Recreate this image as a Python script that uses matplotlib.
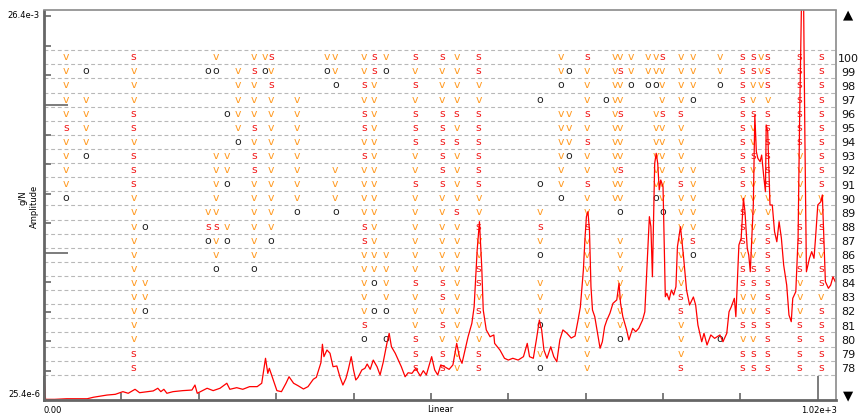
import numpy as np
import matplotlib
matplotlib.use('Agg')
import matplotlib.pyplot as plt
from matplotlib.ticker import MultipleLocator, FixedLocator
from matplotlib import transforms

# Amplitude spectrum
# frequency (linear axis) and amplitude in units of 1e-3 g/N
freq = [0, 2, 14, 30, 57, 65, 83, 94, 104, 111,
        120, 126, 136, 144, 150, 154, 158, 162, 170, 183,
        195, 199, 202, 215, 223, 232, 241, 245, 254, 262,
        271, 281, 287, 292, 295, 297, 300, 307, 313, 319,
        323, 329, 335, 342, 348, 355, 359, 365, 367, 369,
        373, 377, 381, 386, 390, 394, 398, 401, 405, 408,
        411, 414, 419, 423, 426, 430, 434, 439, 443, 447,
        452, 455, 458, 463, 467, 471, 476, 480, 485, 490,
        496, 500, 504, 511, 515, 519, 523, 528, 534, 539,
        544, 548, 551, 555, 559, 564, 567, 568, 571, 574,
        577, 579, 583, 588, 593, 594, 601, 607, 612, 618,
        625, 632, 637, 640, 645, 649, 653, 656, 659, 663,
        668, 672, 676, 680, 684, 689, 695, 700, 704, 707,
        711, 713, 715, 717, 719, 721, 723, 726, 729, 733,
        736, 739, 742, 746, 750, 755, 758, 760, 763, 768,
        771, 776, 780, 784, 789, 792, 794, 798, 800, 802,
        805, 807, 809, 811, 813, 816, 819, 821, 824, 827,
        830, 833, 835, 837, 839, 843, 847, 851, 856, 859,
        862, 867, 870, 874, 879, 884, 891, 895, 900, 903,
        906, 910, 912, 916, 919, 922, 924, 927, 929, 931,
        935, 937, 939, 941, 944, 946, 949, 951, 952, 954,
        957, 960, 963, 966, 969, 972, 975, 979, 982, 985,
        987, 991, 994, 996, 999, 1001, 1003, 1005, 1009, 1012,
        1015, 1017, 1020, 1024, 1026, 1028, 1030, 1034, 1037, 1040,
        1043]
amp = [1.85, 0.07, 0.07, 0.11, 0.11, 0.21, 0.36, 0.41, 0.59, 0.48,
       0.75, 0.52, 0.59, 0.64, 0.82, 0.59, 0.75, 0.48, 0.59, 0.66,
       0.70, 1.04, 0.48, 0.82, 0.66, 0.82, 1.16, 0.75, 0.86, 0.75,
       0.93, 0.93, 1.16, 2.85, 1.83, 2.17, 1.72, 0.66, 0.59, 1.16,
       1.60, 1.16, 0.99, 0.77, 0.93, 1.43, 1.56, 2.55, 3.80, 2.96,
       3.41, 3.19, 2.28, 2.33, 1.60, 1.04, 1.49, 2.06, 2.96, 2.06,
       1.38, 1.56, 2.06, 2.17, 2.46, 2.10, 2.73, 2.28, 1.72, 2.55,
       3.86, 4.54, 3.63, 3.19, 2.73, 2.28, 1.60, 1.87, 1.83, 2.17,
       1.65, 2.01, 1.72, 2.96, 2.06, 1.72, 2.40, 2.28, 2.10, 2.40,
       3.86, 2.85, 2.51, 3.41, 4.31, 5.22, 6.34, 7.27, 10.18, 12.10,
       9.05, 6.12, 4.77, 4.31, 4.43, 3.86, 3.41, 2.85, 2.73, 2.85,
       2.73, 2.96, 3.86, 2.96, 2.85, 4.09, 5.44, 4.77, 3.41, 2.85,
       3.63, 2.96, 2.62, 4.10, 4.77, 4.56, 4.22, 4.36, 5.44, 6.32,
       8.83, 10.86, 12.44, 12.78, 11.54, 7.70, 6.12, 5.67, 4.77, 3.53,
       3.97, 4.99, 5.44, 5.90, 6.57, 6.80, 7.93, 6.57, 5.67, 4.77,
       4.09, 4.88, 4.65, 4.88, 5.44, 6.00, 8.15, 12.44, 11.76, 8.37,
       16.05, 16.73, 16.05, 14.25, 14.92, 14.47, 7.02, 7.25, 6.80, 7.47,
       7.14, 7.70, 10.41, 11.08, 11.76, 9.73, 7.47, 6.46, 7.00, 6.46,
       5.10, 3.97, 4.54, 3.75, 4.43, 4.20, 4.43, 3.97, 4.54, 6.00,
       6.34, 6.91, 5.67, 10.52, 10.98, 13.68, 12.78, 10.30, 9.84, 8.71,
       13.23, 19.32, 16.84, 16.39, 16.16, 16.61, 15.04, 14.13, 18.65, 18.19,
       13.23, 13.23, 11.42, 10.74, 12.10, 10.98, 9.17, 7.81, 5.78, 5.33,
       6.91, 7.36, 10.98, 18.87, 28.5, 28.5, 17.75, 8.71, 9.62, 10.07,
       9.62, 10.98, 13.23, 13.45, 13.91, 10.98, 8.04, 7.59, 7.81, 8.37,
       8.04]

# order rows shown on the right, top to bottom
rows = list(range(100, 77, -1))

# marker columns: frequency of the column and one letter per row
# (row 100 first, row 78 last, '.' means nothing there)
col_freq = [29, 55, 118, 133, 216, 227, 241, 255, 277, 291,
            299, 333, 373, 384, 422, 435, 450, 489, 525, 544,
            573, 654, 681, 692, 716, 740, 752, 759, 774, 796,
            806, 815, 839, 855, 891, 921, 935, 945, 954, 996,
            1024]
col_marks = [
    "vvvvvsvvvvo............",
    ".o.vvvvo...............",
    "svvvssvsssvvvvvvvvvvvss",
    "............o...vvo....",
    ".o.........vso.........",
    "vo.....vvvvvsvvo.......",
    "....o..vvo..vo.........",
    ".vvvvvo................",
    "vsvvvsvssvvvvvvo.......",
    "vo.....................",
    "svsvvvvvvvvvvo.........",
    "...vvvvvvvvo...........",
    "vo.....................",
    "vvo.....vvvo...........",
    "vvsvssvsvvvvssvvvvvso..",
    "ssvvvvvvvvvvvvvvo.o....",
    "vo............vvvvo.o..",
    "svsvsssvvsvvvvvvsvvvsss",
    "svvvssssssvvvvvvssvsvss",
    "vvvvsvsvvvvsvvvvvvvvvvv",
    "ssvvssssssvvsvvssvsvvss",
    "...o.....o.vsvo.vvvo.vo",
    "vvo.vvvvvvo............",
    ".o..vvvo...............",
    "svvvsvsvvsvvsvvvvvvvvvv",
    "...o...................",
    "vvvvvvvvvvv............",
    "vsvvsvvvsvvo.vvvvvvvo..",
    "vvo....................",
    "vvo....................",
    "vvo.vvvvvvo............",
    "svvvsvvvvvvo...........",
    "vvvvsvvvvsvvvvvvvssvvvs",
    "vvvo....vvvvvso........",
    "vvo.................o..",
    "ssssssssssvsssvssvvsvss",
    "ssvvsvvsvvvvvvvssvvsvss",
    "vvv....................",
    "sssvssssssvvsssssssssss",
    "sssssssvvvvvssvsvvvssss",
    "ssssssssssvvssvssvsssss",
]

mark_colors = {'v': '#ff9a22', 's': '#f21d1d', 'o': '#1e1e1e'}

W, H = 860, 415
fig = plt.figure(figsize=(W / 100, H / 100), dpi=100)
ax = fig.add_axes([44 / W, 15 / H, 792 / W, 389.5 / H])

# second axes for the order rows, drawn below the spectrum
ax_rows = ax.twinx()
ax_rows.set_ylim(75.711, 103.317)
ax_rows.axis('off')
ax.set_zorder(ax_rows.get_zorder() + 1)
ax.patch.set_visible(False)

# dashed separators between rows
bounds = [r + 0.5 for r in rows] + [rows[-1] - 0.5]
ax_rows.hlines(bounds, 0, 1044, colors='#b8b8b8', linewidth=0.8,
               linestyles=(0, (3.5, 2.5)))

# v / s / o markers
for f, marks in zip(col_freq, col_marks):
    for r, m in zip(rows, marks):
        if m == '.':
            continue
        ax_rows.text(f, r - 0.21, m, color=mark_colors[m], fontsize=7.8,
                     ha='center', va='baseline')

# row numbers on the right side
trans = transforms.blended_transform_factory(ax_rows.transAxes, ax_rows.transData)
for r in rows:
    ax_rows.text(1 + 12.5 / 792, r - 0.3, str(r), transform=trans, fontsize=8,
                 ha='center', va='baseline', color='#111111')

# the spectrum itself
ax.plot(freq, np.array(amp) * 1e-3, color='#ff0000', linewidth=0.9)
ax.set_xlim(0, 1044)
ax.set_ylim(25.4e-6, 26.4e-3)

# spines and ticks
for side in ['left', 'bottom']:
    ax.spines[side].set_linewidth(2)
    ax.spines[side].set_color('#666666')
for side in ['top', 'right']:
    ax.spines[side].set_linewidth(1.2)
    ax.spines[side].set_color('#8a8a8a')

ax.yaxis.set_major_locator(MultipleLocator(0.010))
ax.yaxis.set_minor_locator(MultipleLocator(0.002))
ax.xaxis.set_major_locator(FixedLocator([0, 1020]))
ax.xaxis.set_minor_locator(MultipleLocator(102))
ax.tick_params(which='both', direction='in', color='#666666', width=1.2,
               labelleft=False, labelbottom=False, right=False, top=False)
ax.tick_params(which='major', length=17)
ax.tick_params(which='minor', length=5)

# axis texts
fs = 6
fig.text(39.5 / W, 1 - 15.7 / H, '26.4e-3', ha='right', va='center', fontsize=fs)
fig.text(40 / W, 1 - 394 / H, '25.4e-6', ha='right', va='center', fontsize=fs)
fig.text(44 / W, 1 - 410 / H, '0.00', ha='left', va='center', fontsize=fs)
fig.text(819 / W, 1 - 410 / H, '1.02e+3', ha='center', va='center', fontsize=fs)
fig.text(440 / W, 1 - 409 / H, 'Linear', ha='center', va='center', fontsize=fs)
fig.text(23 / W, 1 - 198 / H, 'g/N', rotation=90, ha='center', va='center', fontsize=fs)
fig.text(34 / W, 1 - 206 / H, 'Amplitude', rotation=90, ha='center', va='center', fontsize=fs)

# scroll arrows
fig.text(847.7 / W, 1 - 15.3 / H, '\u25B2', ha='center', va='center', fontsize=9.5)
fig.text(847.7 / W, 1 - 396 / H, '\u25BC', ha='center', va='center', fontsize=9.5)

fig.savefig('out.png', dpi=100)
